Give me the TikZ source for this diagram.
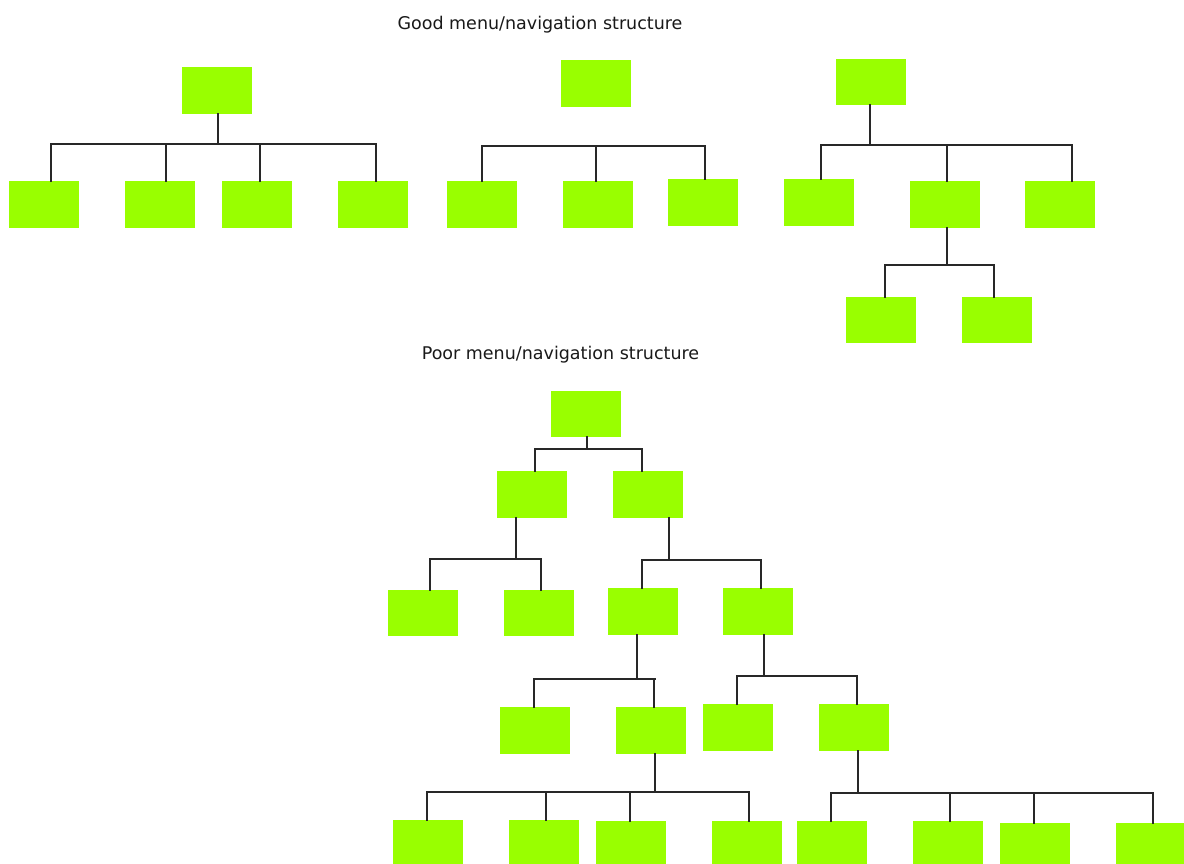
\documentclass[tikz,border=0pt]{standalone}
\usepackage{fontspec}
\setmainfont{DejaVu Sans}
\usetikzlibrary{calc}

\definecolor{menugreen}{RGB}{153,255,0}
\definecolor{linkgray}{RGB}{40,40,40}
\definecolor{titlegray}{RGB}{25,25,25}

% vertical stem from a parent box down to its bus line
\newcommand\treestem[3]{%
  \draw[link] let \p1=($(#1.south)+(#2,0)$), \p2=(#3) in (\p1) -- (\x1,\y2);}
% vertical drop from a bus line down to a child box
\newcommand\treedrop[3]{%
  \draw[link] let \p1=($(#1.north)+(#2,0)$), \p2=(#3) in (\x1,\y2) -- (\p1);}
% horizontal bus between the outermost drops
\newcommand\treebus[5]{%
  \draw[link] let \p1=($(#1.north)+(#2,0)$), \p2=($(#3.north)+(#4,0)$), \p3=(#5)
    in (\x1,\y3) -- (\x2,\y3);}

\begin{document}
\begin{tikzpicture}[x=1pt,y=-1pt,
  menubox/.style={rectangle, fill=menugreen, draw=none, inner sep=0pt,
    minimum width=70pt, minimum height=46.5pt},
  link/.style={draw=linkgray, line width=1.9pt, line cap=rect},
  title/.style={anchor=base, inner sep=0pt, text=titlegray,
    font=\fontsize{17.5}{21}\selectfont}]

\useasboundingbox (0,0) rectangle (1184,864);
\fill[white] (0,0) rectangle (1184,864);
\clip (0,0) rectangle (1184,864);

% ---------------- titles ----------------
\node[title] (good) at (540,30) {Good menu/navigation structure};
\node[title] (poor) at (560.5,359) {Poor menu/navigation structure};

% ---------------- good structure: first tree ----------------
\node[menubox] (g1r) at (217,90.3) {};
\node[menubox] (g1a) at (44,204.5) {};
\node[menubox] (g1b) at (160,204.5) {};
\node[menubox] (g1c) at (257,204.5) {};
\node[menubox] (g1d) at (373,204.5) {};
\coordinate (k1) at (0,144);
\treestem{g1r}{0.7}{k1}
\treebus{g1a}{7}{g1d}{3}{k1}
\treedrop{g1a}{7}{k1}
\treedrop{g1b}{6}{k1}
\treedrop{g1c}{3}{k1}
\treedrop{g1d}{3}{k1}

% ---------------- good structure: second tree ----------------
\node[menubox] (g2r) at (596,83.7) {};
\node[menubox] (g2a) at (482,204.5) {};
\node[menubox] (g2b) at (597.5,204.5) {};
\node[menubox] (g2c) at (703,202.7) {};
\coordinate (k2) at (0,146);
\treebus{g2a}{0}{g2c}{2.3}{k2}
\treedrop{g2a}{0}{k2}
\treedrop{g2b}{-1.2}{k2}
\treedrop{g2c}{2.3}{k2}

% ---------------- good structure: third tree ----------------
\node[menubox] (g3r) at (871,82) {};
\node[menubox] (g3a) at (818.7,202.7) {};
\node[menubox] (g3b) at (944.5,204.5) {};
\node[menubox] (g3c) at (1060.2,204.5) {};
\node[menubox] (g3d) at (881,320) {};
\node[menubox] (g3e) at (996.7,320) {};
\coordinate (k3) at (0,145);
\coordinate (k4) at (0,265.3);
\treestem{g3r}{-1.3}{k3}
\treebus{g3a}{2.3}{g3c}{11.5}{k3}
\treedrop{g3a}{2.3}{k3}
\treedrop{g3b}{2.2}{k3}
\treedrop{g3c}{11.5}{k3}
\treestem{g3b}{2.5}{k4}
\treebus{g3d}{3.7}{g3e}{-2.7}{k4}
\treedrop{g3d}{3.7}{k4}
\treedrop{g3e}{-2.7}{k4}

% ---------------- poor structure ----------------
\node[menubox] (p0)  at (585.7,413.9) {};
\node[menubox] (p1)  at (532,494.3) {};
\node[menubox] (p2)  at (647.5,494.3) {};
\node[menubox] (p3)  at (422.7,613) {};
\node[menubox] (p4)  at (538.7,613) {};
\node[menubox] (p5)  at (642.7,611.7) {};
\node[menubox] (p6)  at (758.3,611.7) {};
\node[menubox] (p7)  at (535.3,730.7) {};
\node[menubox] (p8)  at (651,730.7) {};
\node[menubox] (p9)  at (738.2,727.3) {};
\node[menubox] (p10) at (853.8,727.3) {};
\node[menubox] (p11) at (427.8,843) {};
\node[menubox] (p12) at (543.8,843) {};
\node[menubox] (p13) at (631,844.7) {};
\node[menubox] (p14) at (746.7,844.7) {};
\node[menubox] (p15) at (832.2,844.7) {};
\node[menubox] (p16) at (947.8,844.7) {};
\node[menubox] (p17) at (1035.2,846.3) {};
\node[menubox] (p18) at (1150.8,846.3) {};

% root
\coordinate (q0) at (0,449.3);
\treestem{p0}{1}{q0}
\treebus{p1}{3.3}{p2}{-5.8}{q0}
\treedrop{p1}{3.3}{q0}
\treedrop{p2}{-5.8}{q0}
% left branch
\coordinate (q1) at (0,558.7);
\treestem{p1}{-16}{q1}
\treebus{p3}{7.6}{p4}{2.6}{q1}
\treedrop{p3}{7.6}{q1}
\treedrop{p4}{2.6}{q1}
% right branch
\coordinate (q2) at (0,560);
\treestem{p2}{21.2}{q2}
\treebus{p5}{-1}{p6}{2.7}{q2}
\treedrop{p5}{-1}{q2}
\treedrop{p6}{2.7}{q2}
% third level, left
\coordinate (q3) at (0,679.3);
\treestem{p5}{-6}{q3}
\treebus{p7}{-1}{p8}{4.3}{q3}
\treedrop{p7}{-1}{q3}
\treedrop{p8}{2.7}{q3}
% third level, right
\coordinate (q4) at (0,676);
\treestem{p6}{5.9}{q4}
\treebus{p9}{-1}{p10}{2.8}{q4}
\treedrop{p9}{-1}{q4}
\treedrop{p10}{2.8}{q4}
% fourth level, left
\coordinate (q5) at (0,791.7);
\treestem{p8}{4.3}{q5}
\treebus{p11}{-0.8}{p14}{2.3}{q5}
\treedrop{p11}{-0.8}{q5}
\treedrop{p12}{2.5}{q5}
\treedrop{p13}{-1}{q5}
\treedrop{p14}{2.3}{q5}
% fourth level, right
\coordinate (q6) at (0,793.3);
\treestem{p10}{4.2}{q6}
\treebus{p15}{-0.9}{p18}{2.5}{q6}
\treedrop{p15}{-0.9}{q6}
\treedrop{p16}{2.5}{q6}
\treedrop{p17}{-0.9}{q6}
\treedrop{p18}{2.5}{q6}

\end{tikzpicture}
\end{document}
